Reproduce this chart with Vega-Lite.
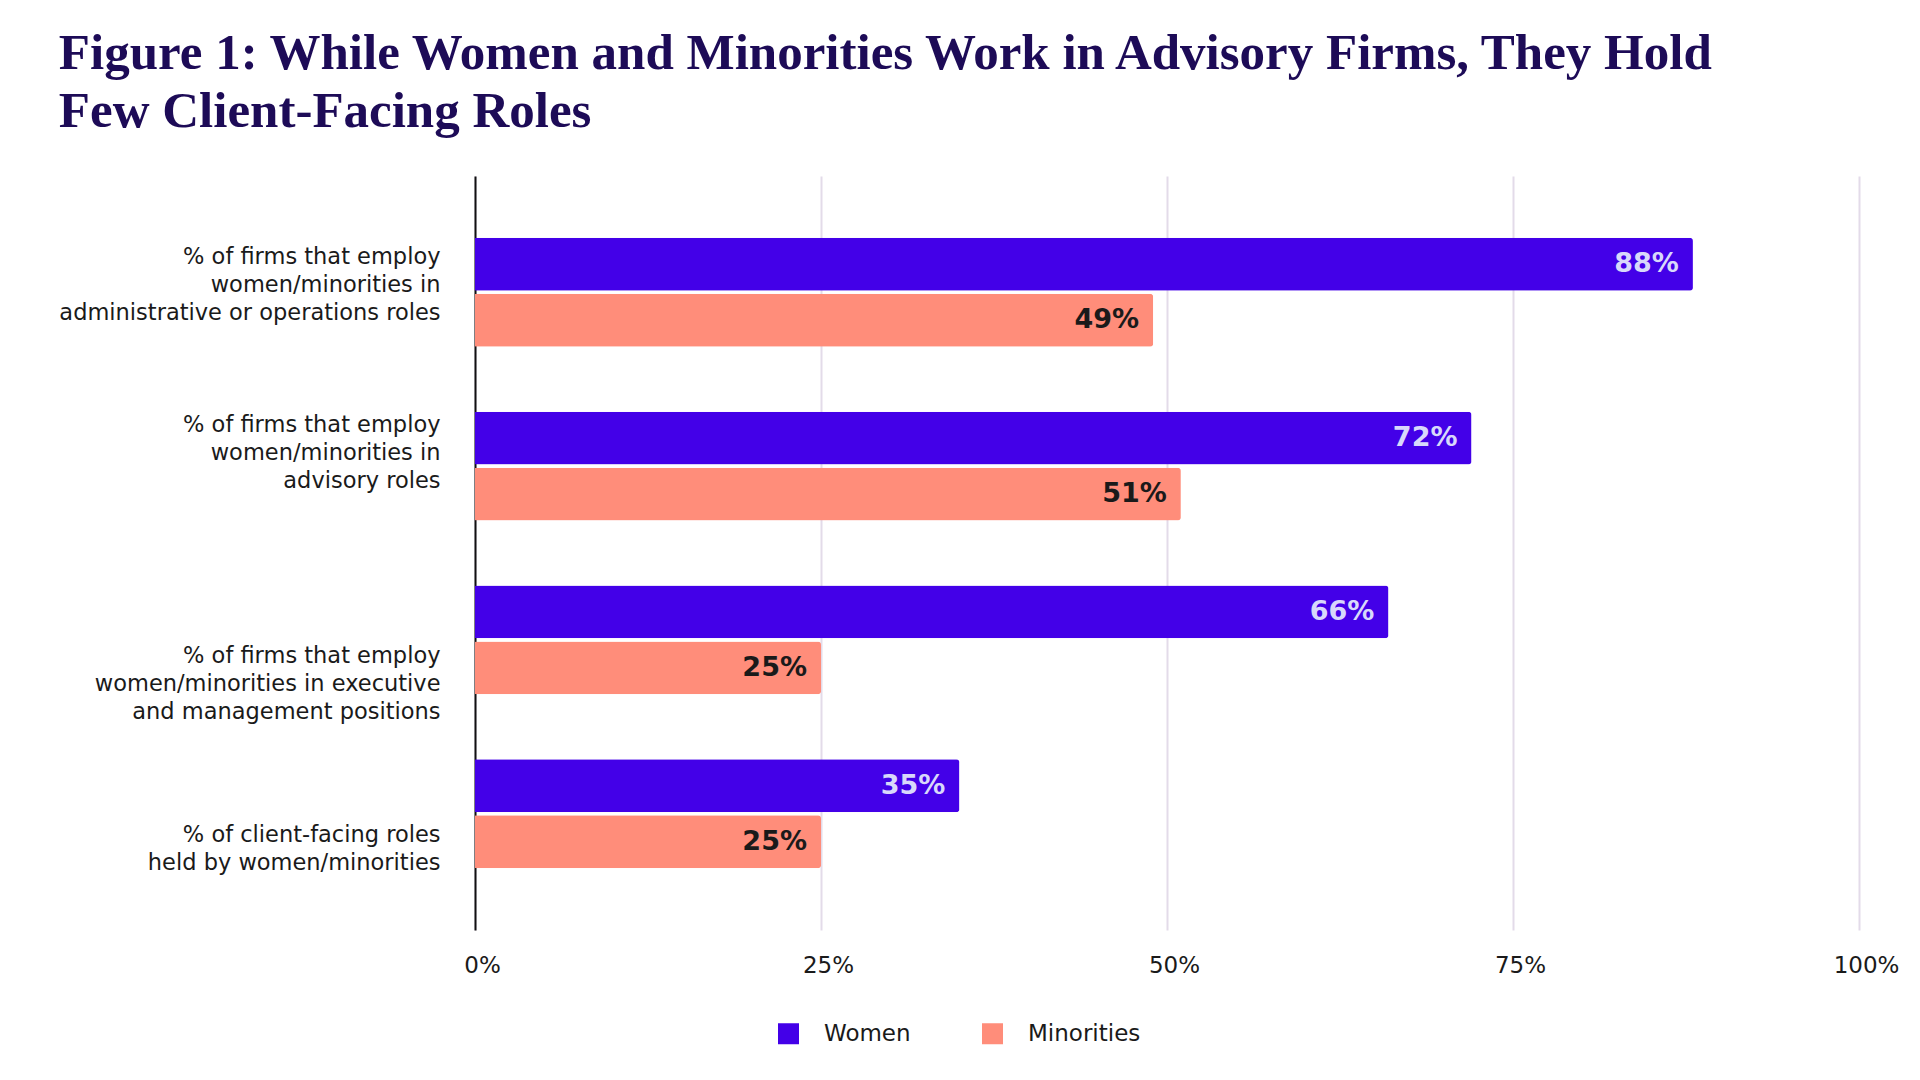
{
  "$schema": "https://vega.github.io/schema/vega-lite/v6.json",
  "width": 1384,
  "height": 754,
  "autosize": {"type": "none"},
  "padding": {"left": 475, "top": 176, "right": 61, "bottom": 150},
  "background": "white",
  "title": {
    "text": ["Figure 1: While Women and Minorities Work in Advisory Firms, They Hold", "Few Client-Facing Roles"],
    "anchor": "start",
    "frame": "bounds",
    "font": "Liberation Serif",
    "fontSize": 51,
    "fontWeight": "bold",
    "color": "#1d0b57",
    "lineHeight": 58,
    "offset": 38
  },
  "data": {
    "values": [
      {"role": "% of firms that employ|women/minorities in|administrative or operations roles", "group": "Women", "share": 0.88},
      {"role": "% of firms that employ|women/minorities in|administrative or operations roles", "group": "Minorities", "share": 0.49},
      {"role": "% of firms that employ|women/minorities in|advisory roles", "group": "Women", "share": 0.72},
      {"role": "% of firms that employ|women/minorities in|advisory roles", "group": "Minorities", "share": 0.51},
      {"role": "% of firms that employ|women/minorities in executive|and management positions", "group": "Women", "share": 0.66},
      {"role": "% of firms that employ|women/minorities in executive|and management positions", "group": "Minorities", "share": 0.25},
      {"role": "% of client-facing roles|held by women/minorities", "group": "Women", "share": 0.35},
      {"role": "% of client-facing roles|held by women/minorities", "group": "Minorities", "share": 0.25}
    ]
  },
  "encoding": {
    "y": {
      "field": "role",
      "type": "nominal",
      "sort": null,
      "title": null,
      "scale": {"paddingInner": 0.373, "paddingOuter": 0.356},
      "axis": {
        "labelExpr": "split(datum.label, '|')",
        "labelFont": "DejaVu Sans",
        "labelFontSize": 22.5,
        "labelColor": "#1a1a1a",
        "labelLineHeight": 28,
        "labelPadding": 35,
        "labelLimit": 500,
        "labelOffset": {
          "condition": [
            {"test": "indexof(datum.value, 'executive') >= 0", "value": 16},
            {"test": "indexof(datum.value, 'client-facing') >= 0", "value": 21},
            {"test": "indexof(datum.value, 'advisory') >= 0", "value": -41}
          ],
          "value": -35
        },
        "ticks": false,
        "domainColor": "#111111",
        "domainWidth": 2,
        "grid": false
      }
    },
    "yOffset": {
      "field": "group",
      "type": "nominal",
      "sort": ["Women", "Minorities"],
      "scale": {"paddingInner": 0.054, "paddingOuter": 0}
    },
    "x": {
      "field": "share",
      "type": "quantitative",
      "title": null,
      "scale": {"domain": [0, 1], "nice": false},
      "axis": {
        "values": [0, 0.25, 0.5, 0.75, 1],
        "format": ".0%",
        "labelFont": "DejaVu Sans",
        "labelFontSize": 23,
        "labelColor": "#1a1a1a",
        "labelPadding": 24,
        "labelFlush": false,
        "labelOffset": 7,
        "domain": false,
        "ticks": false,
        "grid": true,
        "gridColor": "#e3dbe9",
        "gridWidth": 2
      }
    }
  },
  "layer": [
    {
      "mark": {"type": "bar", "cornerRadiusEnd": 3},
      "encoding": {
        "color": {
          "field": "group",
          "type": "nominal",
          "sort": ["Women", "Minorities"],
          "scale": {"domain": ["Women", "Minorities"], "range": ["#4300e8", "#ff8d7a"]},
          "legend": {
            "title": null,
            "orient": "none",
            "direction": "horizontal",
            "legendX": 302,
            "legendY": 846,
            "symbolType": "square",
            "symbolSize": 441,
            "symbolStrokeWidth": 0,
            "labelFont": "DejaVu Sans",
            "labelFontSize": 23,
            "labelColor": "#1a1a1a",
            "labelOffset": 24,
            "columnPadding": 70,
            "padding": 0
          }
        }
      }
    },
    {
      "mark": {"type": "text", "align": "right", "baseline": "middle", "dx": -14, "font": "DejaVu Sans", "fontSize": 27, "fontWeight": "bold"},
      "encoding": {
        "text": {"field": "share", "type": "quantitative", "format": ".0%"},
        "color": {
          "condition": {"test": "datum.group == 'Women'", "value": "#d8d8fb"},
          "value": "#1a1a1a"
        }
      }
    }
  ],
  "config": {"view": {"stroke": null}}
}
